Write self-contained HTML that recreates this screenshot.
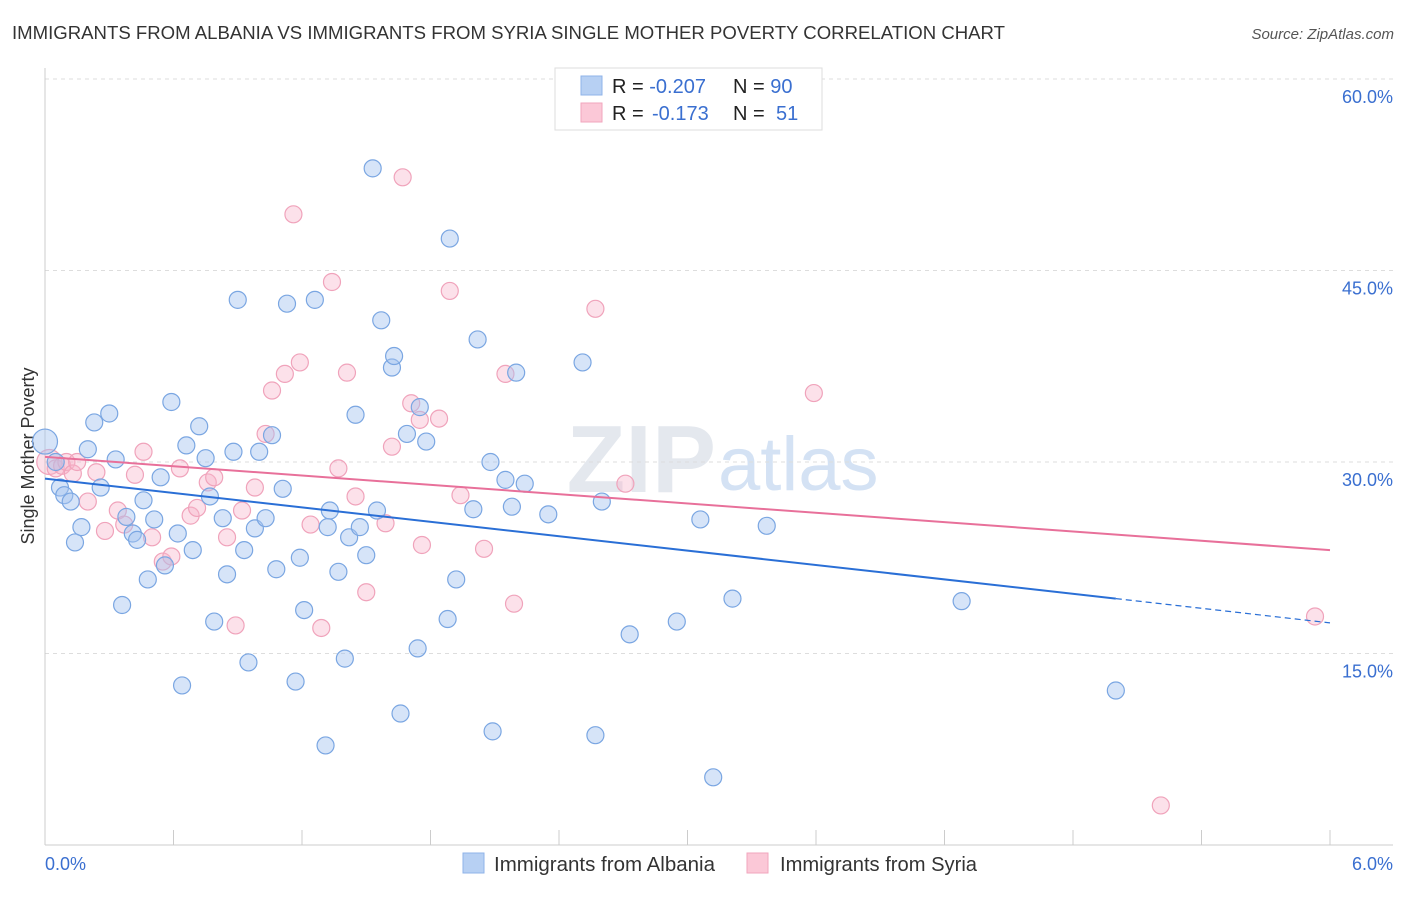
<!DOCTYPE html>
<html><head><meta charset="utf-8"><style>
body{margin:0;background:#fff;font-family:"Liberation Sans",sans-serif;}
svg text{font-family:"Liberation Sans",sans-serif;}
</style></head><body>
<svg id="chart" width="1406" height="892">
<text x="12" y="39" font-size="18" fill="#333" textLength="993" lengthAdjust="spacingAndGlyphs">IMMIGRANTS FROM ALBANIA VS IMMIGRANTS FROM SYRIA SINGLE MOTHER POVERTY CORRELATION CHART</text>
<text x="1394" y="39" font-size="15" fill="#555" font-style="italic" text-anchor="end">Source: ZipAtlas.com</text>
<text x="716" y="492" font-size="96" fill="#e4e8ee" text-anchor="end" font-family="Liberation Serif" font-weight="bold">ZIP</text>
<text x="718" y="490" font-size="76" fill="#d4e2f4">atlas</text>
<text x="34" y="456" font-size="18" fill="#333" text-anchor="middle" transform="rotate(-90 34 456)">Single Mother Poverty</text>
<g id="grid"></g><g id="marks"></g>
<g>
<rect x="555" y="68" width="267" height="62" fill="#fff" stroke="#ddd"/>
<rect x="581" y="76" width="21" height="19" fill="#b7d0f3" stroke="#8fb3e8"/>
<rect x="581" y="103" width="21" height="19" fill="#fbc8d7" stroke="#f2a6bd"/>
<text x="612" y="93" font-size="20" fill="#222">R = <tspan fill="#3a6fd0">-0.207</tspan><tspan x="733">N = </tspan><tspan fill="#3a6fd0">90</tspan></text>
<text x="612" y="120" font-size="20" fill="#222">R = <tspan x="652" fill="#3a6fd0">-0.173</tspan><tspan x="733">N = </tspan><tspan x="776" fill="#3a6fd0">51</tspan></text>
</g>
<g>
<rect x="463" y="853" width="21" height="20" fill="#b7d0f3" stroke="#8fb3e8"/>
<text x="494" y="871" font-size="20" fill="#333" textLength="221" lengthAdjust="spacingAndGlyphs">Immigrants from Albania</text>
<rect x="747" y="853" width="21" height="20" fill="#fbc8d7" stroke="#f2a6bd"/>
<text x="780" y="871" font-size="20" fill="#333" textLength="197" lengthAdjust="spacingAndGlyphs">Immigrants from Syria</text>
</g>
</svg>
<script>
const yTicks=[15,30,45,60];
const xTickLabels=["0.0%","6.0%"];
const albX=[0.00,0.05,0.07,0.09,0.12,0.14,0.17,0.20,0.23,0.26,0.30,0.33,0.36,0.38,0.41,0.43,0.46,0.48,0.51,0.54,0.56,0.59,0.62,0.64,0.66,0.69,0.72,0.75,0.77,0.79,0.83,0.85,0.88,0.90,0.93,0.95,0.98,1.00,1.03,1.06,1.08,1.11,1.13,1.17,1.19,1.21,1.26,1.31,1.32,1.33,1.37,1.40,1.42,1.45,1.47,1.50,1.53,1.55,1.57,1.62,1.63,1.66,1.69,1.74,1.75,1.78,1.88,1.89,1.92,2.00,2.02,2.08,2.09,2.15,2.18,2.20,2.24,2.35,2.51,2.57,2.60,2.73,2.95,3.06,3.12,3.21,3.37,4.28,5.00];
const albY=[31.6,30.0,28.0,27.4,26.9,23.7,24.9,31.0,33.1,28.0,33.8,30.2,18.8,25.7,24.4,23.9,27.0,20.8,25.5,28.8,21.9,34.7,24.4,12.5,31.3,23.1,32.8,30.3,27.3,17.5,25.6,21.2,30.8,42.7,23.1,14.3,24.8,30.8,25.6,32.1,21.6,27.9,42.4,12.8,22.5,18.4,42.7,7.8,24.9,26.2,21.4,14.6,24.1,33.7,24.9,22.7,53.0,26.2,41.1,37.4,38.3,10.3,32.2,15.4,34.3,31.6,17.7,47.5,20.8,26.3,39.6,30.0,8.9,28.6,26.5,37.0,28.3,25.9,37.8,8.6,26.9,16.5,17.5,25.5,5.3,19.3,25.0,19.1,12.1];
const syrX=[0.02,0.05,0.08,0.10,0.13,0.15,0.20,0.24,0.28,0.34,0.37,0.42,0.46,0.50,0.55,0.59,0.63,0.68,0.71,0.76,0.79,0.85,0.89,0.92,0.98,1.03,1.06,1.12,1.16,1.19,1.24,1.29,1.34,1.37,1.41,1.45,1.50,1.59,1.62,1.67,1.71,1.75,1.76,1.84,1.89,1.94,2.05,2.15,2.19,2.57,2.71,3.59,5.21,5.93];
const syrY=[30.0,29.5,29.7,30.0,29.1,30.0,26.9,29.2,24.6,26.2,25.1,29.0,30.8,24.1,22.2,22.6,29.5,25.8,26.4,28.4,28.8,24.1,17.2,26.2,28.0,32.2,35.6,36.9,49.4,37.8,25.1,17.0,44.1,29.5,37.0,27.3,19.8,25.2,31.2,52.3,34.6,33.3,23.5,33.4,43.4,27.4,23.2,36.9,18.9,42.0,28.3,35.4,3.1,17.9];
const albTrend=[28.7,19.3,17.4];
const syrTrend=[30.4,23.1];
const X=v=>45+v/6*1285;
const Y=v=>845-v*766/60;
const NS="http://www.w3.org/2000/svg";
const grid=document.getElementById('grid'),marks=document.getElementById('marks');
function mk(tag,attrs,parent){const e=document.createElementNS(NS,tag);for(const k in attrs)e.setAttribute(k,attrs[k]);parent.appendChild(e);return e;}
yTicks.forEach(t=>{
 const l=mk('line',{x1:45,x2:1393,y1:Y(t),y2:Y(t),stroke:'#ddd','stroke-dasharray':'4,4'},grid);
 
 
 const tx=mk('text',{x:1393,y:Y(t)+24,'font-size':18,fill:'#3a6fd0','text-anchor':'end'},grid);
 tx.textContent=t.toFixed(1)+'%';
 
 
});
mk('line',{x1:45,x2:45,y1:68,y2:845,stroke:'#ccc'},grid);
mk('line',{x1:45,x2:1393,y1:845,y2:845,stroke:'#ccc'},grid);
for(let i=0;i<=10;i++){mk('line',{x1:X(i*0.6),x2:X(i*0.6),y1:830,y2:845,stroke:'#ccc'},grid);}
const xl0=mk('text',{x:45,y:870,'font-size':18,fill:'#3a6fd0'},grid);xl0.textContent=xTickLabels[0];


const xl1=mk('text',{x:1393,y:870,'font-size':18,fill:'#3a6fd0','text-anchor':'end'},grid);xl1.textContent=xTickLabels[1];


function pts(xs,ys,fill,stroke,name){xs.forEach((x,i)=>{
 const r=i===0?12.5:8.5;
 const c=mk('circle',{cx:X(x),cy:Y(ys[i]),r:r,fill:fill,stroke:stroke,'stroke-width':1.2},marks);
 
 
});}
pts(syrX,syrY,'rgba(248,180,202,0.4)','#f0a3bb','syria-point');
pts(albX,albY,'rgba(164,196,240,0.45)','#7aa6e2','albania-point');
const bt=mk('line',{x1:X(0),y1:Y(albTrend[0]),x2:X(5),y2:Y(albTrend[1]),stroke:'#2a6fd6','stroke-width':2},marks);


const bd=mk('line',{x1:X(5),y1:Y(albTrend[1]),x2:X(6),y2:Y(albTrend[2]),stroke:'#2a6fd6','stroke-width':1.2,'stroke-dasharray':'6,4'},marks);


const pt=mk('line',{x1:X(0),y1:Y(syrTrend[0]),x2:X(6),y2:Y(syrTrend[1]),stroke:'#e8709a','stroke-width':2},marks);


</script>
</body></html>
